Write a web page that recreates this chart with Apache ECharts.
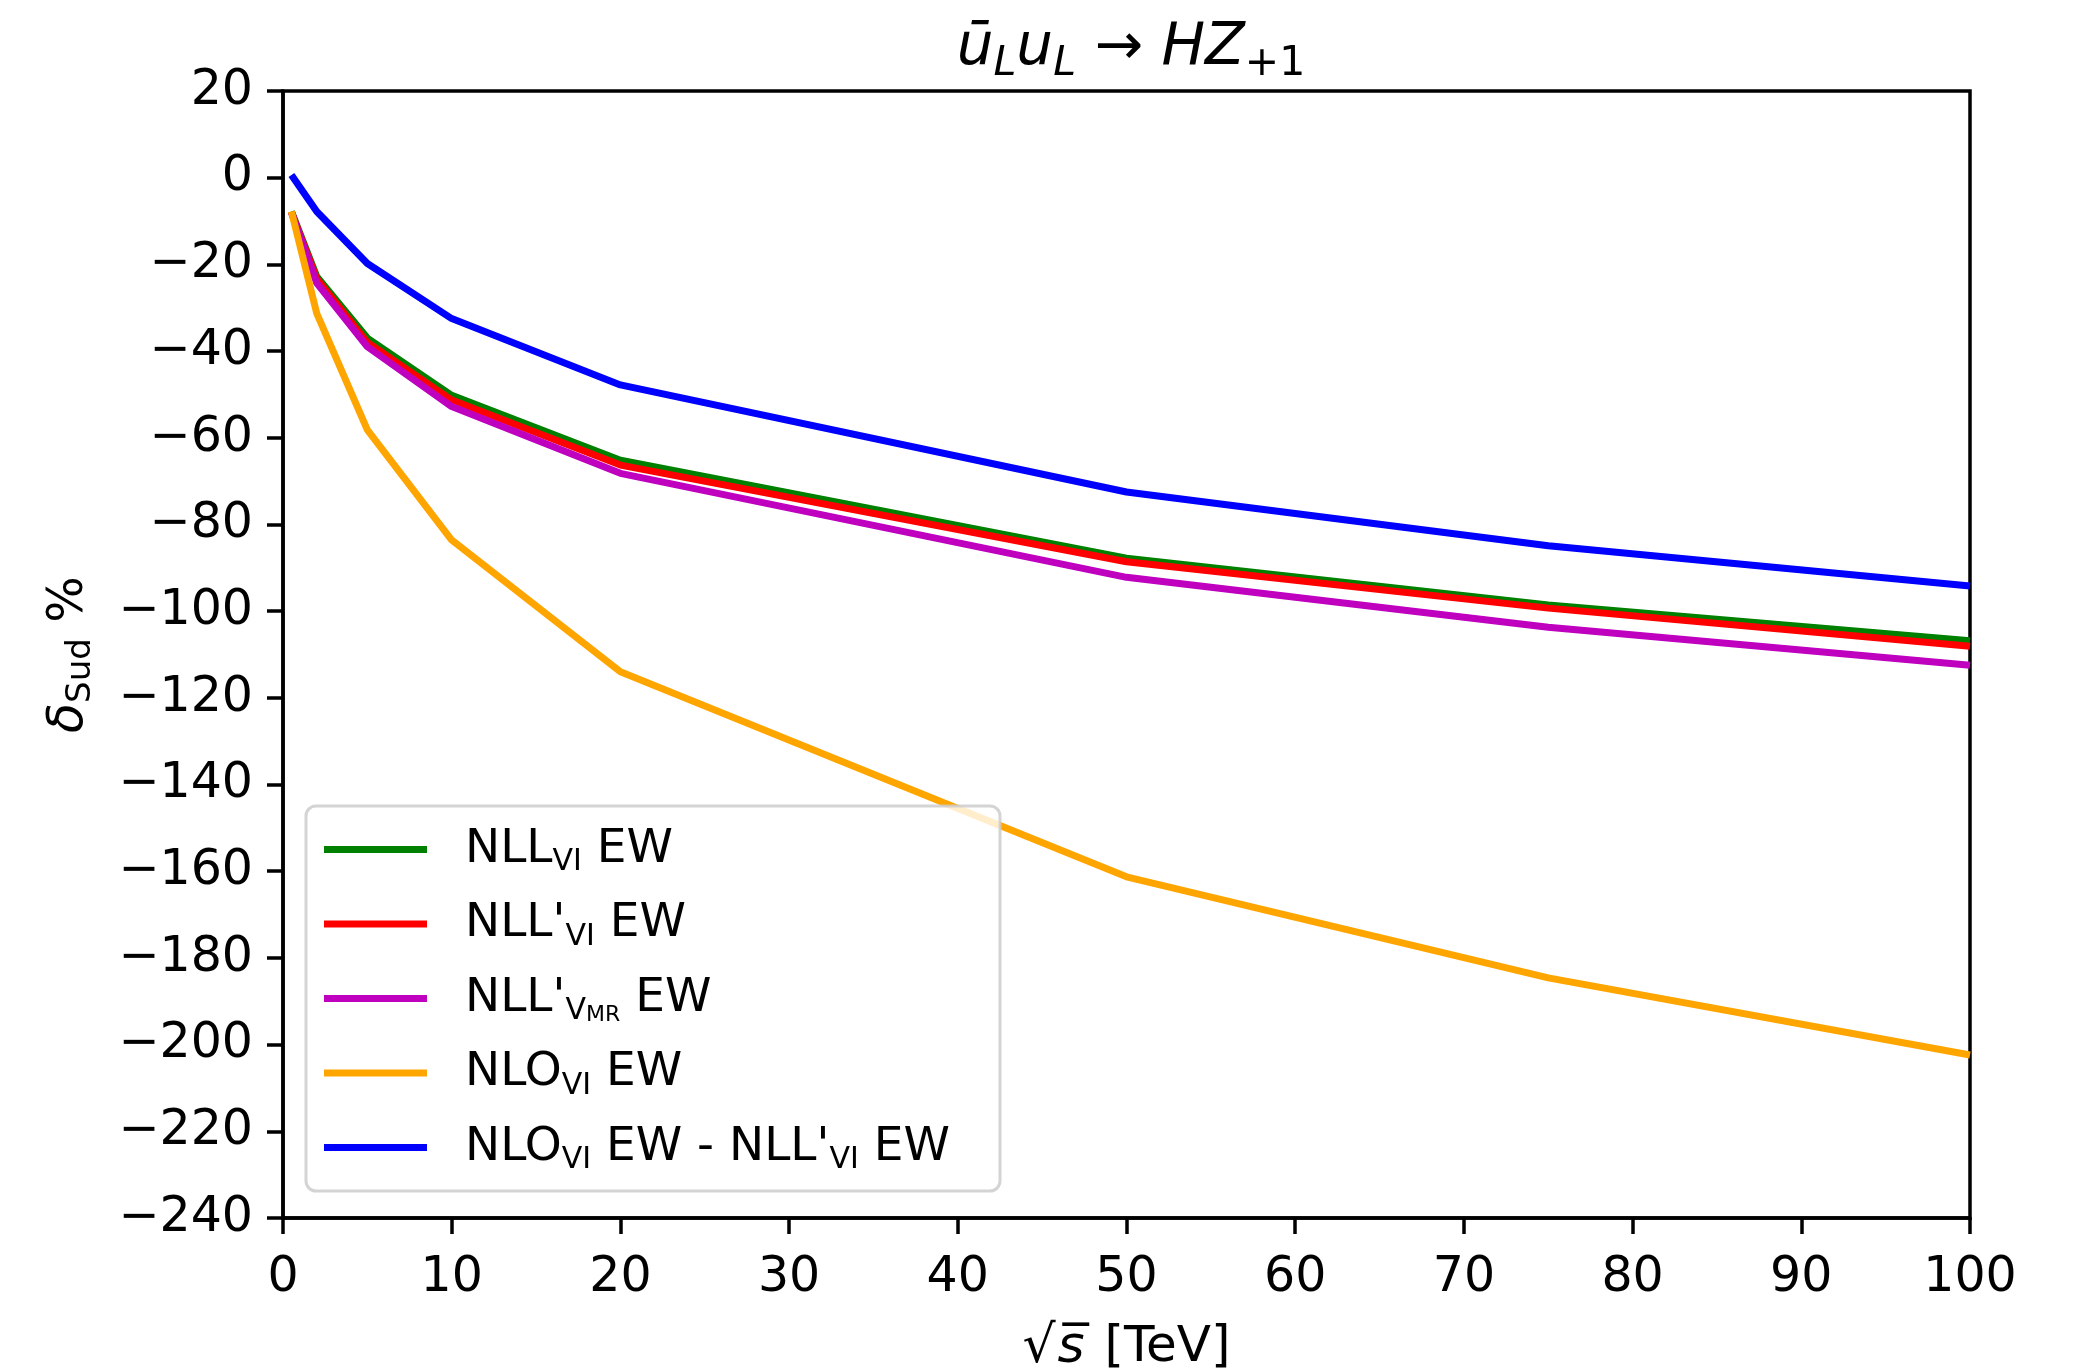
<!DOCTYPE html>
<html>
<head>
<meta charset="utf-8">
<script src="https://cdn.jsdelivr.net/npm/echarts@6/dist/echarts.min.js"></script>
<style>
  html, body { margin: 0; padding: 0; background: #fff; }
  #chart { width: 2085px; height: 1372px; }
</style>
</head>
<body>
<div id="chart"></div>
<script>
// Collision energy sqrt(s) in TeV
const energies = [0.5, 2, 5, 10, 20, 50, 75, 100];

// Sudakov corrections delta_Sud in percent
const nllVI      = [-7.8, -22.8, -37.0, -50.2, -65.2, -87.8, -98.6, -106.8];
const nllPrimeVI = [-8.0, -23.3, -38.0, -51.3, -66.3, -88.6, -99.3, -108.1];
const nllPrimeMR = [-8.0, -24.3, -39.0, -52.8, -68.2, -92.2, -103.7, -112.5];
const nloVI      = [-7.8, -31.3, -58.2, -83.6, -114.0, -161.3, -184.6, -202.4];
const nloMinusNll = [0.6, -7.8, -19.8, -32.5, -47.8, -72.5, -84.9, -94.2];

const seriesNames = ['nllVI', 'nllPrimeVI', 'nllPrimeMR', 'nloVI', 'nloMinusNll'];
const seriesColors = ['#008000', '#ff0000', '#bf00bf', '#ffa500', '#0000ff'];
const seriesValues = [nllVI, nllPrimeVI, nllPrimeMR, nloVI, nloMinusNll];

// Legend labels with subscripts, as rich text
const legendLabels = {
  nllVI: "{p|}{n|NLL}{s|VI}{n| EW}",
  nllPrimeVI: "{p|}{n|NLL'}{s|VI}{n| EW}",
  nllPrimeMR: "{p|}{n|NLL'}{s|V}{ss|MR}{n| EW}",
  nloVI: "{p|}{n|NLO}{s|VI}{n| EW}",
  nloMinusNll: "{p|}{n|NLO}{s|VI}{n| EW - NLL'}{s|VI}{n| EW}"
};

const xTicks = { min: 0, max: 100, interval: 10 };
const yTicks = { min: -240, max: 20, interval: 20 };

const FONT = 'DejaVu Sans';
const fmtNum = v => (v < 0 ? '\u2212' + Math.abs(v) : String(v));

const chart = echarts.init(document.getElementById('chart'), null, { renderer: 'canvas' });

const option = {
  backgroundColor: '#ffffff',
  animation: false,
  title: {
    text: '{i|\u016b}{is|L}{i|u}{is|L}{r| \u2192 }{i|HZ}{s|+1}',
    left: 1126,
    textAlign: 'center',
    top: 8,
    textStyle: {
      fontWeight: 'normal',
      rich: {
        i: { fontFamily: FONT, fontStyle: 'italic', fontWeight: 'normal', fontSize: 58, lineHeight: 72, color: '#000' },
        is: { fontFamily: FONT, fontStyle: 'italic', fontWeight: 'normal', fontSize: 41, lineHeight: 34, verticalAlign: 'bottom', color: '#000' },
        r: { fontFamily: FONT, fontWeight: 'normal', fontSize: 58, lineHeight: 72, color: '#000' },
        s: { fontFamily: FONT, fontWeight: 'normal', fontSize: 41, lineHeight: 34, verticalAlign: 'bottom', color: '#000' }
      }
    }
  },
  grid: {
    left: 283, right: 115, top: 91, bottom: 154,
    outerBoundsMode: 'none',
    containLabel: false,
    show: true, borderColor: '#000', borderWidth: 3.5, backgroundColor: 'transparent'
  },
  // Legend frame: semi-transparent white box with a light rounded border
  graphic: [{
    type: 'rect',
    z: 3,
    shape: { x: 306, y: 806, width: 694, height: 385, r: 10 },
    style: { fill: 'rgba(255,255,255,0.8)', stroke: 'rgba(204,204,204,0.85)', lineWidth: 3 }
  }],
  legend: {
    orient: 'vertical',
    left: 324, top: 826,
    z: 4,
    data: seriesNames,
    icon: 'rect',
    itemWidth: 103,
    itemHeight: 7,
    itemGap: 23,
    padding: 0,
    formatter: name => legendLabels[name],
    textStyle: {
      rich: {
        p: { width: 33 },
        n: { fontFamily: FONT, fontSize: 47, lineHeight: 56, color: '#000' },
        s: { fontFamily: FONT, fontSize: 30, lineHeight: 22, verticalAlign: 'bottom', color: '#000' },
        ss: { fontFamily: FONT, fontSize: 22, lineHeight: 8, verticalAlign: 'bottom', color: '#000' }
      }
    }
  },
  xAxis: {
    type: 'value',
    min: xTicks.min, max: xTicks.max, interval: xTicks.interval,
    name: '{r|\u221a}{i|s\u0305}{n| [TeV]}',
    nameLocation: 'middle',
    nameGap: 104,
    nameTextStyle: {
      rich: {
        r: { fontFamily: FONT, fontSize: 52, color: '#000' },
        i: { fontFamily: FONT, fontStyle: 'italic', fontSize: 52, color: '#000', padding: [0, 4, 0, 2] },
        n: { fontFamily: FONT, fontSize: 50, color: '#000' }
      }
    },
    axisLine: { show: true, onZero: false, lineStyle: { color: '#000', width: 3.5 } },
    axisTick: { show: true, inside: false, length: 16, lineStyle: { color: '#000', width: 3.5 } },
    axisLabel: { margin: 36, fontFamily: FONT, fontSize: 49, color: '#000', formatter: fmtNum },
    splitLine: { show: false }
  },
  yAxis: {
    type: 'value',
    min: yTicks.min, max: yTicks.max, interval: yTicks.interval,
    name: '{d|\u03b4}{s|Sud}{n| %}',
    nameLocation: 'middle',
    nameRotate: 90,
    nameGap: 185,
    nameTextStyle: {
      rich: {
        d: { fontFamily: FONT, fontStyle: 'italic', fontSize: 49, lineHeight: 58, color: '#000' },
        s: { fontFamily: FONT, fontSize: 34, lineHeight: 30, verticalAlign: 'bottom', color: '#000' },
        n: { fontFamily: FONT, fontSize: 49, lineHeight: 58, color: '#000' }
      }
    },
    axisLine: { show: true, onZero: false, lineStyle: { color: '#000', width: 3.5 } },
    axisTick: { show: true, inside: false, length: 16, lineStyle: { color: '#000', width: 3.5 } },
    axisLabel: { margin: 30, fontFamily: FONT, fontSize: 49, color: '#000', formatter: fmtNum },
    splitLine: { show: false }
  },
  series: seriesNames.map((name, k) => ({
    name: name,
    type: 'line',
    data: energies.map((e, j) => [e, seriesValues[k][j]]),
    showSymbol: false,
    symbol: 'none',
    lineStyle: { color: seriesColors[k], width: 7 },
    itemStyle: { color: seriesColors[k] },
    z: 2 + k * 0.01
  }))
};

chart.setOption(option);
</script>
</body>
</html>
